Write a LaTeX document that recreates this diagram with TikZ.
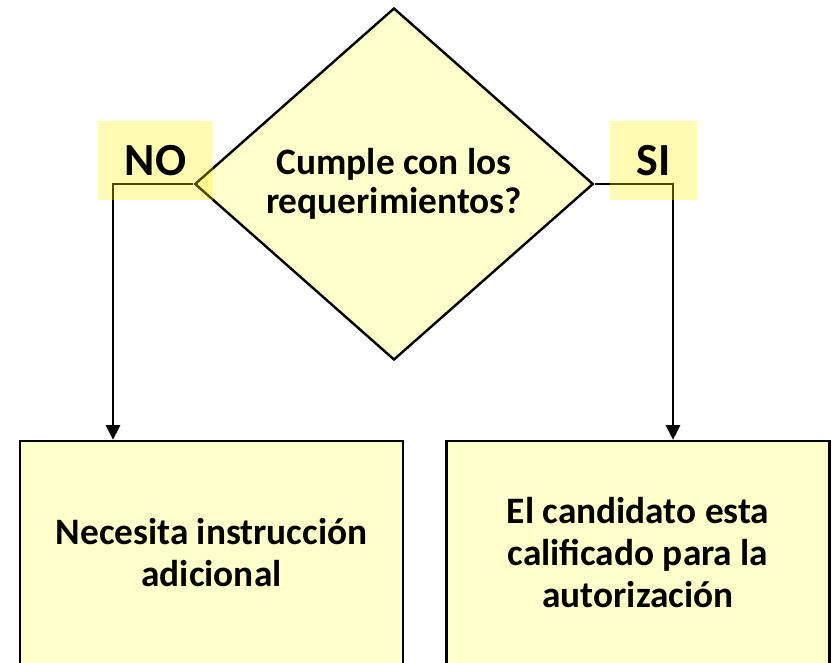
\documentclass[tikz,border=0pt]{standalone}
\usepackage{fontspec}
\setmainfont{Carlito}
\usetikzlibrary{shapes.geometric,arrows.meta}
\definecolor{paleyellow}{HTML}{FFFFCC}
\begin{document}
\begin{tikzpicture}[x=0.75pt,y=-0.75pt,font=\bfseries]
        % Styles
        \tikzstyle{decision}=[diamond,draw,line width=1.8pt,fill=paleyellow,inner sep=0pt,
            minimum width=299pt,minimum height=264pt,align=center,font=\bfseries\fontsize{28}{29.5}\selectfont]
        \tikzstyle{outcome}=[rectangle,draw,line width=1.8pt,fill=paleyellow,
            minimum width=287pt,minimum height=168pt,align=center,font=\bfseries\fontsize{28}{31.5}\selectfont]
        \tikzstyle{answer}=[rectangle,fill=yellow,fill opacity=0.3,text opacity=1,inner sep=0pt,minimum height=59pt,
            font=\bfseries\fontsize{34.5}{36}\selectfont]
        \tikzstyle{flow}=[line width=1.8pt,-{Triangle[length=11pt,width=10.5pt]}]
        \useasboundingbox (0,0) rectangle (834,662);
        %the question
        \node[decision] (question) at (394,184) {Cumple con los\\requerimientos?};
        %the two outcomes
        \node[outcome] (notready) at (211.5,553) {Necesita instrucci\'on\\adicional};
        \node[outcome] (ready) at (638,553) {El candidato esta\\calificado para la\\autorizaci\'on};
        %connectors
        \coordinate (noturn) at (113,184);
        \coordinate (siturn) at (673,184);
        \draw[flow] (question.west) -- (noturn) -- (noturn |- notready.north);
        \draw[flow] (question.east) -- (siturn) -- (siturn |- ready.north);
        %answers
        \node[answer,minimum width=86pt] (no) at (155.5,160.5) {NO};
        \node[answer,minimum width=65pt] (si) at (653.5,160.5) {SI};
    \end{tikzpicture}
\end{document}
